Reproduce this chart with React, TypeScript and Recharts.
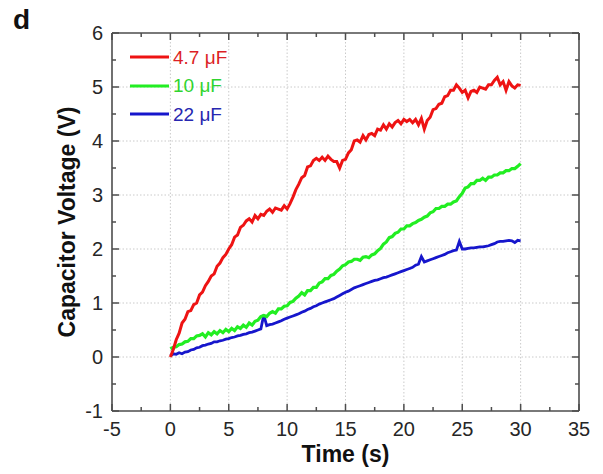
import React from 'react';
import { LineChart, Line, XAxis, YAxis, ReferenceLine, Legend } from 'recharts';

// ---------- data ----------
const time = [
  0, 0.25, 0.5, 0.75, 1, 1.25, 1.5, 1.75, 2, 2.25, 2.5, 2.75,
  3, 3.25, 3.5, 3.75, 4, 4.25, 4.5, 4.75, 5, 5.25, 5.5, 5.75,
  6, 6.25, 6.5, 6.75, 7, 7.25, 7.5, 7.75, 8, 8.25, 8.5, 8.75,
  9, 9.25, 9.5, 9.75, 10, 10.25, 10.5, 10.75, 11, 11.25, 11.5, 11.75,
  12, 12.25, 12.5, 12.75, 13, 13.25, 13.5, 13.75, 14, 14.25, 14.5, 14.75,
  15, 15.25, 15.5, 15.75, 16, 16.25, 16.5, 16.75, 17, 17.25, 17.5, 17.75,
  18, 18.25, 18.5, 18.75, 19, 19.25, 19.5, 19.75, 20, 20.25, 20.5, 20.75,
  21, 21.25, 21.5, 21.75, 22, 22.25, 22.5, 22.75, 23, 23.25, 23.5, 23.75,
  24, 24.25, 24.5, 24.75, 25, 25.25, 25.5, 25.75, 26, 26.25, 26.5, 26.75,
  27, 27.25, 27.5, 27.75, 28, 28.25, 28.5, 28.75, 29, 29.25, 29.5, 29.75,
  30,
];

const v47uF = [
  0.0, 0.14, 0.32, 0.44, 0.63, 0.7, 0.84, 0.86, 0.97, 1.0, 1.15, 1.2,
  1.32, 1.4, 1.5, 1.54, 1.68, 1.74, 1.84, 1.9, 2.0, 2.08, 2.22, 2.26,
  2.4, 2.44, 2.52, 2.56, 2.5, 2.62, 2.56, 2.64, 2.62, 2.7, 2.74, 2.68,
  2.76, 2.74, 2.72, 2.8, 2.74, 2.84, 2.96, 3.1, 3.2, 3.32, 3.36, 3.52,
  3.54, 3.64, 3.68, 3.64, 3.7, 3.64, 3.72, 3.66, 3.62, 3.62, 3.5, 3.64,
  3.66, 3.78, 3.84, 4.0, 4.02, 3.98, 4.1, 4.02, 4.12, 4.14, 4.1, 4.22,
  4.2, 4.3, 4.22, 4.32, 4.26, 4.34, 4.38, 4.32, 4.4, 4.36, 4.4, 4.34,
  4.4, 4.3, 4.42, 4.22, 4.38, 4.44, 4.58, 4.6, 4.68, 4.7, 4.82, 4.84,
  4.94, 4.94, 5.04, 4.98, 4.9, 4.94, 4.8, 4.92, 4.94, 4.9, 5.0, 4.98,
  4.96, 5.04, 5.04, 5.12, 5.18, 5.04, 5.1, 4.94, 5.1, 5.02, 4.98, 5.04,
  5.03,
];

const v10uF = [
  0.15, 0.18, 0.19, 0.23, 0.24, 0.28, 0.29, 0.34, 0.34, 0.39, 0.4, 0.43,
  0.37, 0.45, 0.41, 0.47, 0.43, 0.49, 0.45, 0.51, 0.47, 0.53, 0.49, 0.56,
  0.53, 0.59, 0.55, 0.63, 0.59, 0.66, 0.68, 0.75, 0.77, 0.75, 0.81, 0.84,
  0.81, 0.89, 0.89, 0.94, 0.95, 1.01, 1.03, 1.09, 1.13, 1.19, 1.15, 1.23,
  1.23, 1.29, 1.29, 1.37, 1.39, 1.45, 1.45, 1.51, 1.53, 1.59, 1.63, 1.69,
  1.71, 1.76, 1.77, 1.81, 1.81, 1.79, 1.85, 1.86, 1.84, 1.89, 1.91, 1.97,
  2.01, 2.09, 2.13, 2.21, 2.23, 2.29, 2.31, 2.37, 2.37, 2.43, 2.43, 2.47,
  2.49, 2.53, 2.55, 2.59, 2.61, 2.67, 2.69, 2.75, 2.75, 2.79, 2.79, 2.83,
  2.83, 2.87, 2.89, 2.97, 3.03, 3.13, 3.15, 3.21, 3.21, 3.27, 3.27, 3.31,
  3.27, 3.33, 3.33, 3.37, 3.37, 3.41, 3.41, 3.45, 3.45, 3.49, 3.49, 3.53,
  3.58,
];

const v22uF = [
  0.02, 0.06, 0.05, 0.08, 0.06, 0.09, 0.1, 0.13, 0.14, 0.17, 0.18, 0.21,
  0.22, 0.24, 0.25, 0.28, 0.28, 0.3, 0.31, 0.33, 0.34, 0.36, 0.37, 0.39,
  0.4, 0.42, 0.43, 0.45, 0.46, 0.48, 0.5, 0.52, 0.78, 0.58, 0.6, 0.61,
  0.63, 0.65, 0.67, 0.7, 0.72, 0.74, 0.76, 0.78, 0.8, 0.83, 0.85, 0.88,
  0.9, 0.93, 0.95, 0.98, 1.0, 1.02, 1.04, 1.06, 1.08, 1.11, 1.14, 1.17,
  1.2, 1.22, 1.25, 1.28, 1.3, 1.32, 1.34, 1.36, 1.38, 1.4, 1.42, 1.43,
  1.45, 1.47, 1.48, 1.5, 1.52, 1.54, 1.56, 1.58, 1.6, 1.62, 1.64, 1.66,
  1.7, 1.72, 1.86, 1.76, 1.78, 1.8, 1.82, 1.84, 1.86, 1.88, 1.9, 1.93,
  1.95, 1.97, 1.98, 2.14, 2.0, 2.0, 2.01, 2.02, 2.02, 2.03, 2.04, 2.04,
  2.05, 2.06, 2.08, 2.1, 2.13, 2.14, 2.14, 2.15, 2.16, 2.15, 2.12, 2.16,
  2.15,
];

const seriesNames = ['4.7 \u03bcF', '10 \u03bcF', '22 \u03bcF'];
const lineColors = ['#ee1313', '#22ee22', '#1616cc'];
const textColors = ['#dc1f26', '#2fd42f', '#2727b0'];

const xTicks = [-5, -2.5, 0, 2.5, 5, 7.5, 10, 12.5, 15, 17.5, 20, 22.5, 25, 27.5, 30, 32.5, 35];
const xMajor = [-5, 0, 5, 10, 15, 20, 25, 30, 35];
const yTicks = [-1, -0.5, 0, 0.5, 1, 1.5, 2, 2.5, 3, 3.5, 4, 4.5, 5, 5.5, 6];
const yMajor = [-1, 0, 1, 2, 3, 4, 5, 6];
const gridX = [0, 5, 10, 15, 20, 25, 30];
const gridY = [0, 1, 2, 3, 4, 5];

const data = time.map((t, i) => ({ t, a: v47uF[i], b: v10uF[i], c: v22uF[i] }));

// ---------- styling ----------
const FONT = "'Liberation Sans', Arial, Helvetica, sans-serif";
const AXIS = '#4d4d4d';
const MAJOR_LEN = 7;
const MINOR_LEN = 4;

const BottomTick = (props: any) => {
  const { x, y, payload } = props;
  const major = xMajor.includes(payload.value);
  return (
    <g>
      <line x1={x} y1={y} x2={x} y2={y - (major ? MAJOR_LEN : MINOR_LEN)} stroke={AXIS} strokeWidth={1.5} />
      {major && (
        <text x={x} y={y + 25} textAnchor="middle" fontSize={20} fill="#262626" fontFamily={FONT}>
          {payload.value}
        </text>
      )}
    </g>
  );
};

const TopTick = (props: any) => {
  const { x, y, payload } = props;
  const major = xMajor.includes(payload.value);
  return <line x1={x} y1={y} x2={x} y2={y + (major ? MAJOR_LEN : MINOR_LEN)} stroke={AXIS} strokeWidth={1.5} />;
};

const LeftTick = (props: any) => {
  const { x, y, payload } = props;
  const major = yMajor.includes(payload.value);
  return (
    <g>
      <line x1={x} y1={y} x2={x + (major ? MAJOR_LEN : MINOR_LEN)} y2={y} stroke={AXIS} strokeWidth={1.5} />
      {major && (
        <text x={x - 9} y={y} dy="0.36em" textAnchor="end" fontSize={20} fill="#262626" fontFamily={FONT}>
          {payload.value}
        </text>
      )}
    </g>
  );
};

const RightTick = (props: any) => {
  const { x, y, payload } = props;
  const major = yMajor.includes(payload.value);
  return <line x1={x} y1={y} x2={x - (major ? MAJOR_LEN : MINOR_LEN)} y2={y} stroke={AXIS} strokeWidth={1.5} />;
};

const XTitle = (props: any) => {
  const vb = props.viewBox || {};
  return (
    <text x={vb.x + vb.width / 2} y={vb.y + vb.height - 12} textAnchor="middle" fontSize={23} fontWeight="bold" fill="#111" fontFamily={FONT}>
      Time (s)
    </text>
  );
};

const YTitle = (props: any) => {
  const vb = props.viewBox || {};
  const cx = vb.x + 67;
  const cy = vb.y + vb.height / 2;
  return (
    <text x={cx} y={cy} transform={`rotate(-90, ${cx}, ${cy})`} textAnchor="middle" dominantBaseline="central" fontSize={23} fontWeight="bold" fill="#111" fontFamily={FONT}>
      Capacitor Voltage (V)
    </text>
  );
};

const LegendBox = () => (
  <div style={{ fontFamily: FONT }}>
    {seriesNames.map((name, i) => (
      <div key={name} style={{ display: 'flex', alignItems: 'center', height: 28.5 }}>
        <svg width={39} height={4} style={{ display: 'block' }}>
          <line x1={0} y1={2} x2={39} y2={2} stroke={lineColors[i]} strokeWidth={2.8} />
        </svg>
        <span style={{ marginLeft: 4, fontSize: 19, color: textColors[i], lineHeight: 1 }}>{name}</span>
      </div>
    ))}
  </div>
);

export default function App() {
  return (
    <div style={{ position: 'absolute', left: 0, top: 0, width: 603, height: 474, background: '#fff' }}>
      <div style={{ position: 'absolute', left: 13, top: 6, fontSize: 28, fontWeight: 'bold', lineHeight: 1, fontFamily: FONT, color: '#111', zIndex: 2 }}>
        d
      </div>
      <LineChart width={603} height={474} data={data} margin={{ top: 0, right: 0, bottom: 0, left: 0 }}>
        <XAxis
          xAxisId="bottom"
          dataKey="t"
          type="number"
          orientation="bottom"
          domain={[-5, 35]}
          ticks={xTicks}
          interval={0}
          allowDataOverflow
          height={63}
          tickSize={0}
          tickMargin={0}
          tickLine={false}
          axisLine={{ stroke: AXIS, strokeWidth: 1.6 }}
          tick={<BottomTick />}
          label={<XTitle />}
        />
        <XAxis
          xAxisId="top"
          dataKey="t"
          type="number"
          orientation="top"
          domain={[-5, 35]}
          ticks={xTicks}
          interval={0}
          allowDataOverflow
          height={33}
          tickSize={0}
          tickMargin={0}
          tickLine={false}
          axisLine={{ stroke: AXIS, strokeWidth: 1.6 }}
          tick={<TopTick />}
        />
        <YAxis
          yAxisId="left"
          type="number"
          orientation="left"
          domain={[-1, 6]}
          ticks={yTicks}
          interval={0}
          allowDataOverflow
          width={112}
          tickSize={0}
          tickMargin={0}
          tickLine={false}
          axisLine={{ stroke: AXIS, strokeWidth: 1.6 }}
          tick={<LeftTick />}
          label={<YTitle />}
        />
        <YAxis
          yAxisId="right"
          type="number"
          orientation="right"
          domain={[-1, 6]}
          ticks={yTicks}
          interval={0}
          allowDataOverflow
          width={24}
          tickSize={0}
          tickMargin={0}
          tickLine={false}
          axisLine={{ stroke: AXIS, strokeWidth: 1.6 }}
          tick={<RightTick />}
        />
        {gridX.map((g) => (
          <ReferenceLine key={'gx' + g} xAxisId="bottom" yAxisId="left" x={g} stroke="#cacaca" strokeWidth={1} strokeDasharray="1.5 2" />
        ))}
        {gridY.map((g) => (
          <ReferenceLine key={'gy' + g} xAxisId="bottom" yAxisId="left" y={g} stroke="#cacaca" strokeWidth={1} strokeDasharray="1.5 2" />
        ))}
        <Legend
          layout="vertical"
          align="center"
          verticalAlign="middle"
          wrapperStyle={{ left: 130, top: 43, width: 'auto', height: 'auto' }}
          content={<LegendBox />}
        />
        <Line xAxisId="bottom" yAxisId="left" type="linear" dataKey="c" name={seriesNames[2]} stroke={lineColors[2]} strokeWidth={2.8} dot={false} isAnimationActive={false} />
        <Line xAxisId="bottom" yAxisId="left" type="linear" dataKey="b" name={seriesNames[1]} stroke={lineColors[1]} strokeWidth={3.2} dot={false} isAnimationActive={false} />
        <Line xAxisId="bottom" yAxisId="left" type="linear" dataKey="a" name={seriesNames[0]} stroke={lineColors[0]} strokeWidth={3} dot={false} isAnimationActive={false} />
      </LineChart>
    </div>
  );
}
